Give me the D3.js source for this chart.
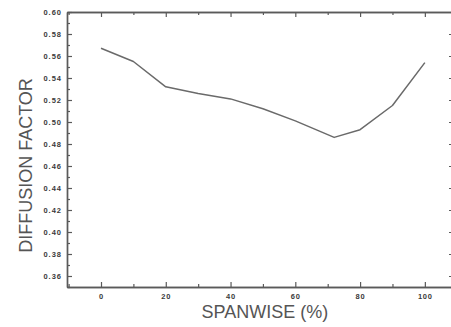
<!DOCTYPE html>
<html>
<head>
<meta charset="utf-8">
<script src="https://cdn.jsdelivr.net/npm/d3@7"></script>
<style>
  html, body { margin: 0; padding: 0; background: #fff; }
  svg { display: block; }
  .tick text { font-family: "Liberation Sans", Arial, sans-serif; font-weight: bold; fill: #3a3a3a; }
</style>
</head>
<body>
<script>
// Diffusion factor along the span
const spanwise = [0, 10, 20, 30, 40, 50, 60, 72, 80, 90, 100];
const diffusion = [0.567, 0.555, 0.532, 0.526, 0.521, 0.512, 0.501, 0.486, 0.493, 0.515, 0.554];

const xMajor = [0, 20, 40, 60, 80, 100];
const xMinor = [-10, 10, 30, 50, 70, 90, 110];
const yMajor = [0.36, 0.38, 0.40, 0.42, 0.44, 0.46, 0.48, 0.50, 0.52, 0.54, 0.56, 0.58, 0.60];
const yMinor = [0.35, 0.37, 0.39, 0.41, 0.43, 0.45, 0.47, 0.49, 0.51, 0.53, 0.55, 0.57, 0.59];

const xTitle = "SPANWISE (%)";
const yTitle = "DIFFUSION FACTOR";

const W = 451, H = 327;
const plotLeft = 67, plotRight = 454, plotTop = 12, plotBottom = 287;
const axisColor = "#5a5a5a";

const svg = d3.select("body").append("svg").attr("width", W).attr("height", H);

const x = d3.scaleLinear().domain([-10.5, 109]).range([plotLeft, plotRight]);
const y = d3.scaleLinear().domain([0.35, 0.60]).range([plotBottom, plotTop]);

function styleAxis(g) {
  g.selectAll("path.domain").attr("stroke", axisColor).attr("stroke-width", 1.4);
  g.selectAll(".tick line").attr("stroke", axisColor).attr("stroke-width", 1.2);
}

// bottom axis: labelled majors and unlabelled minors, ticks pointing inward
svg.append("g").attr("transform", `translate(0,${plotBottom})`)
  .call(d3.axisBottom(x).tickValues(xMajor).tickSizeInner(-5).tickSizeOuter(0).tickPadding(7)
    .tickFormat(d3.format("d")))
  .call(g => g.selectAll(".tick text").attr("font-size", 7.5).attr("letter-spacing", 0.8))
  .call(styleAxis);
svg.append("g").attr("transform", `translate(0,${plotBottom})`)
  .call(d3.axisBottom(x).tickValues(xMinor).tickSizeInner(-3).tickSizeOuter(0).tickFormat(""))
  .call(styleAxis);

// top axis
svg.append("g").attr("transform", `translate(0,${plotTop})`)
  .call(d3.axisTop(x).tickValues(xMajor).tickSizeInner(-5).tickSizeOuter(0).tickFormat(""))
  .call(styleAxis);
svg.append("g").attr("transform", `translate(0,${plotTop})`)
  .call(d3.axisTop(x).tickValues(xMinor).tickSizeInner(-3).tickSizeOuter(0).tickFormat(""))
  .call(styleAxis);

// left axis
svg.append("g").attr("transform", `translate(${plotLeft},0)`)
  .call(d3.axisLeft(y).tickValues(yMajor).tickSizeInner(-5).tickSizeOuter(0).tickPadding(5)
    .tickFormat(d3.format(".2f")))
  .call(g => g.selectAll(".tick text").attr("font-size", 7.5).attr("letter-spacing", 1))
  .call(styleAxis);
svg.append("g").attr("transform", `translate(${plotLeft},0)`)
  .call(d3.axisLeft(y).tickValues(yMinor).tickSizeInner(-3).tickSizeOuter(0).tickFormat(""))
  .call(styleAxis);

// right axis
svg.append("g").attr("transform", `translate(${plotRight},0)`)
  .call(d3.axisRight(y).tickValues(yMajor).tickSizeInner(-5).tickSizeOuter(0).tickFormat(""))
  .call(styleAxis);
svg.append("g").attr("transform", `translate(${plotRight},0)`)
  .call(d3.axisRight(y).tickValues(yMinor).tickSizeInner(-3).tickSizeOuter(0).tickFormat(""))
  .call(styleAxis);

// data line
const line = d3.line().x((d, i) => x(spanwise[i])).y(d => y(d));
svg.append("path").datum(diffusion)
  .attr("d", line)
  .attr("fill", "none")
  .attr("stroke", "#6a6a6a")
  .attr("stroke-width", 1.5)
  .attr("stroke-linejoin", "round");

// axis titles
svg.append("text")
  .attr("x", (x(0) + x(100)) / 2 + 2)
  .attr("y", 318)
  .attr("text-anchor", "middle")
  .attr("font-family", "Liberation Sans, Arial, sans-serif")
  .attr("font-size", 18)
  .attr("fill", "#555")
  .text(xTitle);

svg.append("text")
  .attr("transform", `translate(32,${(plotTop + plotBottom) / 2 + 16}) rotate(-90)`)
  .attr("text-anchor", "middle")
  .attr("font-family", "Liberation Sans, Arial, sans-serif")
  .attr("font-size", 18)
  .attr("fill", "#555")
  .text(yTitle);
</script>
</body>
</html>
